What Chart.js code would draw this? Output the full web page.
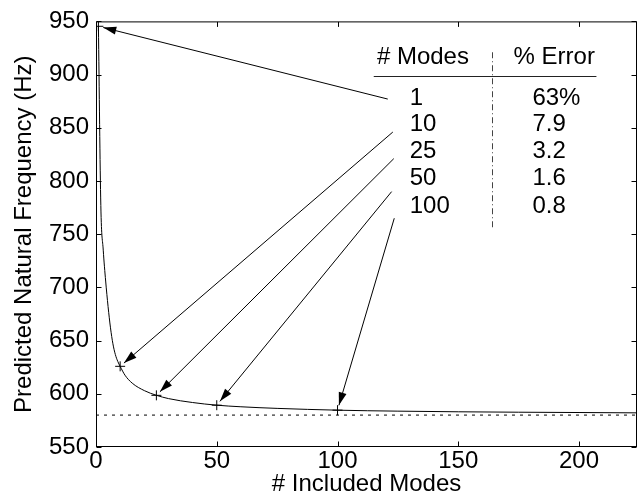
<!DOCTYPE html>
<html>
<head>
<meta charset="utf-8">
<title>Predicted natural frequency vs. included modes</title>
<script src="https://cdn.jsdelivr.net/npm/chart.js@4.4.0/dist/chart.umd.min.js"></script>
<style>
  body { margin: 0; background: #fff; }
  #wrap { width: 644px; height: 499px; }
</style>
</head>
<body>
<div id="wrap"><canvas id="myChart" width="644" height="499"></canvas></div>
<script>
// convergence of the first natural frequency with number of modes
var modes = [1, 2, 3, 4, 5, 6, 7, 8, 9, 10, 12, 15, 20, 25, 30, 40, 50, 60, 75, 100, 125, 150, 175, 200, 224];
var freq = [945.4, 777, 735, 706, 682, 662, 647, 637, 630.5, 625.8, 617.5, 610, 603, 598.6, 595.5, 591.8, 589.3, 587.8, 586.3, 584.6, 583.7, 583.1, 582.7, 582.4, 582.1];

var converged = 580; // Hz, exact value (dashed line)

var tableModes = [1, 10, 25, 50, 100];
var tableError = [63, 7.9, 3.2, 1.6, 0.8];
var errorText = ["63%", "7.9", "3.2", "1.6", "0.8"];

var xTicks = [0, 50, 100, 150, 200];
var yTicks = [550, 600, 650, 700, 750, 800, 850, 900, 950];

// where the arrows start, in axis units
var tailX = [120.8, 122.9, 123.3, 122.4, 123.5];
var tailY = [877, 846, 821, 790, 765];

var FONT = '"Liberation Sans", Arial, Helvetica, sans-serif';

var curve = modes.map(function (m, i) { return { x: m, y: freq[i] }; });
var marked = tableModes.map(function (m, i) {
  return { x: m, y: converged * (1 + tableError[i] / 100) };
});

function arrow(ctx, x1, y1, x2, y2) {
  var a = Math.atan2(y2 - y1, x2 - x1);
  var c = Math.cos(a), s = Math.sin(a);
  var ex = x2 - 5 * c, ey = y2 - 5 * s;
  ctx.beginPath();
  ctx.moveTo(x1, y1);
  ctx.lineTo(ex, ey);
  ctx.stroke();
  ctx.beginPath();
  ctx.moveTo(ex, ey);
  ctx.lineTo(ex - 13 * c + 4 * s, ey - 13 * s - 4 * c);
  ctx.lineTo(ex - 13 * c - 4 * s, ey - 13 * s + 4 * c);
  ctx.closePath();
  ctx.fill();
}

// box with inward tick marks
var frame = {
  id: 'frame',
  afterDatasetsDraw: function (chart) {
    var ctx = chart.ctx, ca = chart.chartArea;
    var xs = chart.scales.x, ys = chart.scales.y;
    var L = ca.left + 0.5, R = ca.right - 0.5, T = ca.top + 0.5, B = ca.bottom - 0.5;
    ctx.save();
    ctx.strokeStyle = '#000';
    ctx.lineWidth = 1;
    ctx.strokeRect(L, T, R - L, B - T);
    ctx.beginPath();
    xTicks.forEach(function (v) {
      var px = Math.round(xs.getPixelForValue(v)) + 0.5;
      ctx.moveTo(px, B); ctx.lineTo(px, B - 5);
      ctx.moveTo(px, T); ctx.lineTo(px, T + 5);
    });
    yTicks.forEach(function (v) {
      var py = Math.round(ys.getPixelForValue(v)) + 0.5;
      ctx.moveTo(L, py); ctx.lineTo(L + 5, py);
      ctx.moveTo(R, py); ctx.lineTo(R - 5, py);
    });
    ctx.stroke();
    ctx.restore();
  }
};

// mode/error table and arrows pointing at the marked points
var notes = {
  id: 'notes',
  afterDraw: function (chart) {
    var ctx = chart.ctx;
    var xs = chart.scales.x, ys = chart.scales.y;
    function X(v) { return xs.getPixelForValue(v); }
    function Y(v) { return ys.getPixelForValue(v); }

    ctx.save();
    ctx.strokeStyle = '#000';
    ctx.fillStyle = '#000';
    ctx.lineWidth = 1;
    marked.forEach(function (p, i) {
      arrow(ctx, X(tailX[i]), Y(tailY[i]), X(p.x), Y(p.y));
    });

    ctx.font = '24px ' + FONT;
    ctx.textBaseline = 'middle';
    ctx.textAlign = 'left';
    ctx.fillText('# Modes', X(116.3), Y(916.4));
    ctx.fillText('% Error', X(172.9), Y(916.4));

    var rowY = [878, 852.8, 827.6, 802.3, 776.2];
    tableModes.forEach(function (m, i) {
      ctx.fillText(String(m), X(129.9), Y(rowY[i]));
      ctx.fillText(errorText[i], X(180.7), Y(rowY[i]));
    });

    ctx.strokeStyle = '#222';
    ctx.beginPath();
    ctx.moveTo(X(115), Math.round(Y(898.6)) + 0.5);
    ctx.lineTo(X(207.2), Math.round(Y(898.6)) + 0.5);
    ctx.stroke();

    ctx.strokeStyle = '#444';
    ctx.setLineDash([6, 3, 1, 3]);
    ctx.beginPath();
    ctx.moveTo(Math.round(X(163.9)) + 0.5, Y(921));
    ctx.lineTo(Math.round(X(163.9)) + 0.5, Y(755.6));
    ctx.stroke();
    ctx.restore();
  }
};

new Chart('myChart', {
  type: 'line',
  data: {
    datasets: [
      {
        data: curve,
        borderColor: '#000',
        borderWidth: 1,
        pointRadius: 0,
        cubicInterpolationMode: 'monotone'
      },
      {
        data: marked,
        showLine: false,
        pointStyle: 'cross',
        pointRadius: 5,
        borderColor: '#000',
        borderWidth: 1
      },
      {
        data: [{ x: 0, y: converged }, { x: 224, y: converged }],
        borderColor: '#000',
        borderWidth: 1,
        borderDash: [3, 5],
        pointRadius: 0
      }
    ]
  },
  options: {
    responsive: false,
    animation: false,
    events: [],
    layout: { padding: { left: 0, right: 7, top: 19, bottom: 0 } },
    plugins: {
      legend: { display: false },
      tooltip: { enabled: false }
    },
    scales: {
      x: {
        type: 'linear',
        min: 0,
        max: 224,
        afterBuildTicks: function (s) { s.ticks = xTicks.map(function (v) { return { value: v }; }); },
        afterFit: function (s) { s.height = 52; },
        grid: { display: false, drawTicks: false },
        border: { display: false },
        ticks: { color: '#000', font: { family: FONT, size: 24 }, padding: 0, maxRotation: 0 },
        title: {
          display: true,
          text: '# Included Modes',
          color: '#000',
          font: { family: FONT, size: 24 },
          padding: { top: 0, bottom: 0 }
        }
      },
      y: {
        min: 550,
        max: 950,
        afterBuildTicks: function (s) { s.ticks = yTicks.map(function (v) { return { value: v }; }); },
        afterFit: function (s) { s.width = 96; },
        grid: { display: false, drawTicks: false },
        border: { display: false },
        ticks: { color: '#000', font: { family: FONT, size: 24 }, padding: 7 },
        title: {
          display: true,
          text: 'Predicted Natural Frequency (Hz)',
          color: '#000',
          font: { family: FONT, size: 24 },
          padding: { top: 10, bottom: 0 }
        }
      }
    }
  },
  plugins: [frame, notes]
});
</script>
</body>
</html>
